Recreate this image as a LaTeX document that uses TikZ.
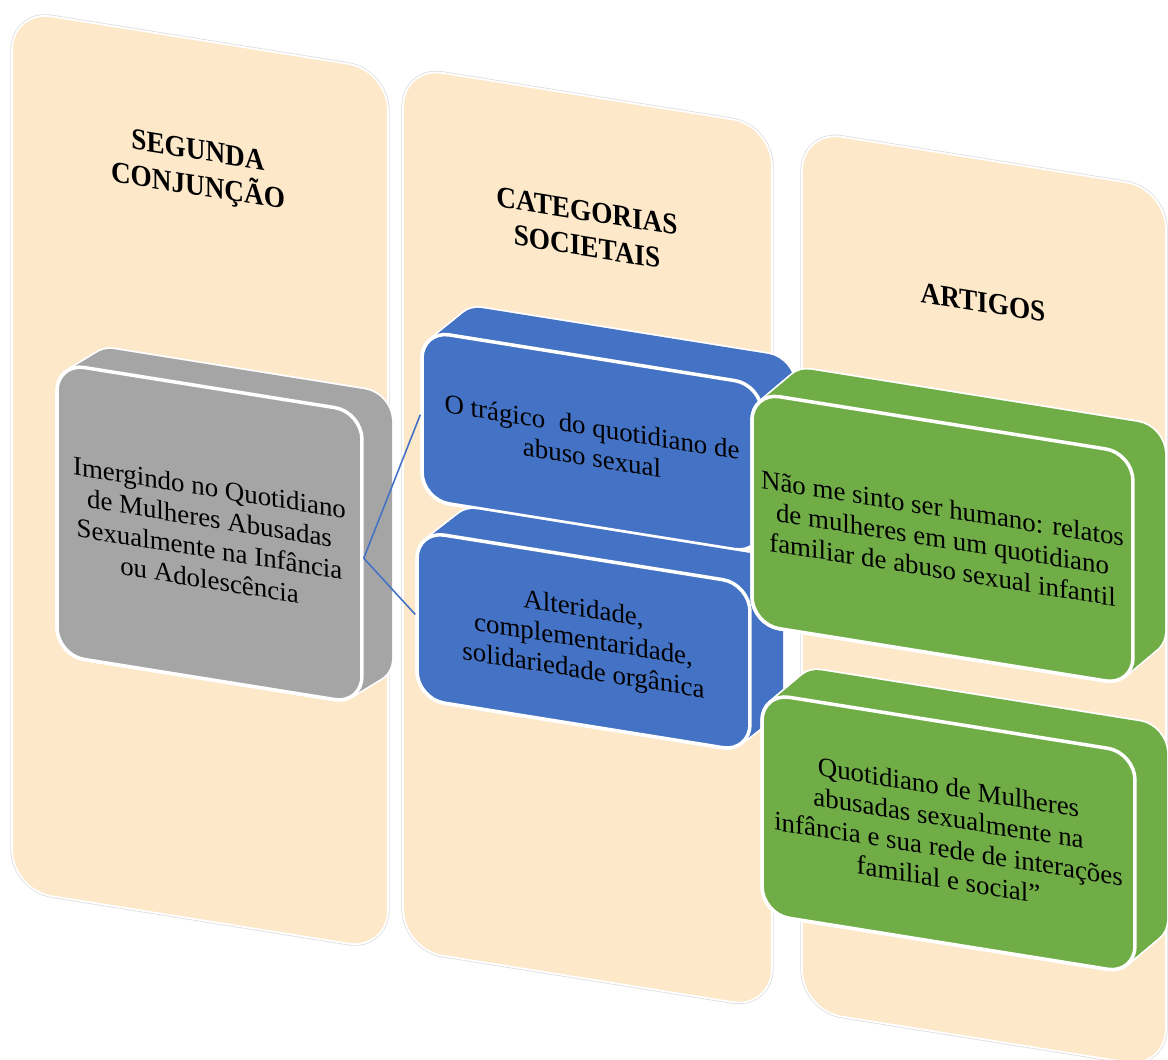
\documentclass[tikz,border=0pt]{standalone}
\usepackage{fontspec}
\setmainfont{Liberation Serif}
\definecolor{peach}{RGB}{253,232,202}
\definecolor{boxgray}{RGB}{165,165,165}
\definecolor{boxblue}{RGB}{68,114,196}
\definecolor{boxgreen}{RGB}{112,173,71}
% hull of an extruded rounded box: x1,y1,x2,y2 (front face), dx,dy (depth), colour
\newcommand\mkextrusion[7]{%
  \foreach \t in {0,...,12}{\draw[white,line width=2pt,rounded corners=0.55cm]
    ({#1+\t*(#5)/12},{#2+\t*(#6)/12}) rectangle ({#3+\t*(#5)/12},{#4+\t*(#6)/12});}
  \foreach \t in {0,...,12}{\fill[#7,rounded corners=0.55cm]
    ({#1+\t*(#5)/12},{#2+\t*(#6)/12}) rectangle ({#3+\t*(#5)/12},{#4+\t*(#6)/12});}
}
\begin{document}
\begin{tikzpicture}[x=0.02cm,y=-0.02cm,
  col/.style={fill=peach, draw=white, line width=1pt, rounded corners=0.8cm, inner sep=0,
    preaction={draw=black!14, line width=1.8pt}},
  front/.style={draw=white, line width=2pt, rounded corners=0.55cm, inner sep=0,
    align=center, font=\fontsize{15.3}{17.5}\selectfont},
  head/.style={align=center, yscale=1.1, font=\fontsize{15.5}{18.5}\selectfont\bfseries},
  link/.style={draw=boxblue, line width=0.9pt}]
\fill[white] (0,0) rectangle (1168,1059);
\useasboundingbox (0,0) rectangle (1168,1059);
\begin{scope}[cm={1,-0.16,0,1,(0,0)}, transform shape]
  % columns
  \node[col, minimum width=7.52cm, minimum height=17.6cm] (c1) at (200,448) {};
  \node[col, minimum width=7.38cm, minimum height=17.66cm] (c2) at (587.5,443.5) {};
  \node[col, minimum width=7.28cm, minimum height=17.6cm] (c3) at (984,442) {};
  \node[head] (h1) at (198,139) {SEGUNDA\\CONJUNÇÃO};
  \node[head] (h2) at (587,135) {CATEGORIAS\\SOCIETAIS};
  \node[head] (h3) at (983,145) {ARTIGOS};
  % gray box
  \mkextrusion{57}{354}{362}{646}{30}{-23}{boxgray}
  \node[front, fill=boxgray, minimum width=6.10cm, minimum height=5.84cm] (g) at (209.5,500)
    {Imergindo no Quotidiano\\de Mulheres Abusadas\\Sexualmente na Infância\\ou Adolescência};
  % blue boxes
  \mkextrusion{422}{263}{762}{432}{33}{-32}{boxblue}
  \node[front, fill=boxblue, minimum width=6.8cm, minimum height=3.38cm] (b1) at (592,347.5)
    {O trágico~ do quotidiano de\\abuso sexual};
  \mkextrusion{417}{464}{750}{632}{33}{-31}{boxblue}
  \node[front, fill=boxblue, minimum width=6.66cm, minimum height=3.36cm] (b2) at (583.5,548)
    {Alteridade,\\complementaridade,\\solidariedade orgânica};
  % green boxes
  \mkextrusion{752}{272}{1133}{504}{32}{-32}{boxgreen}
  \node[front, fill=boxgreen, minimum width=7.62cm, minimum height=4.64cm] (v1) at (942.5,388)
    {Não me sinto ser humano: relatos\\de mulheres em um quotidiano\\familiar de abuso sexual infantil};
  \mkextrusion{762}{571}{1135}{792}{32}{-32}{boxgreen}
  \node[front, fill=boxgreen, minimum width=7.46cm, minimum height=4.42cm] (v2) at (948.5,681.5)
    {Quotidiano de Mulheres\\abusadas sexualmente na\\infância e sua rede de interações\\familial e social”};
  % connectors
  \draw[link] (g.east) -- (b1.west);
  \draw[link] (g.east) -- (b2.west);
\end{scope}
\end{tikzpicture}
\end{document}
